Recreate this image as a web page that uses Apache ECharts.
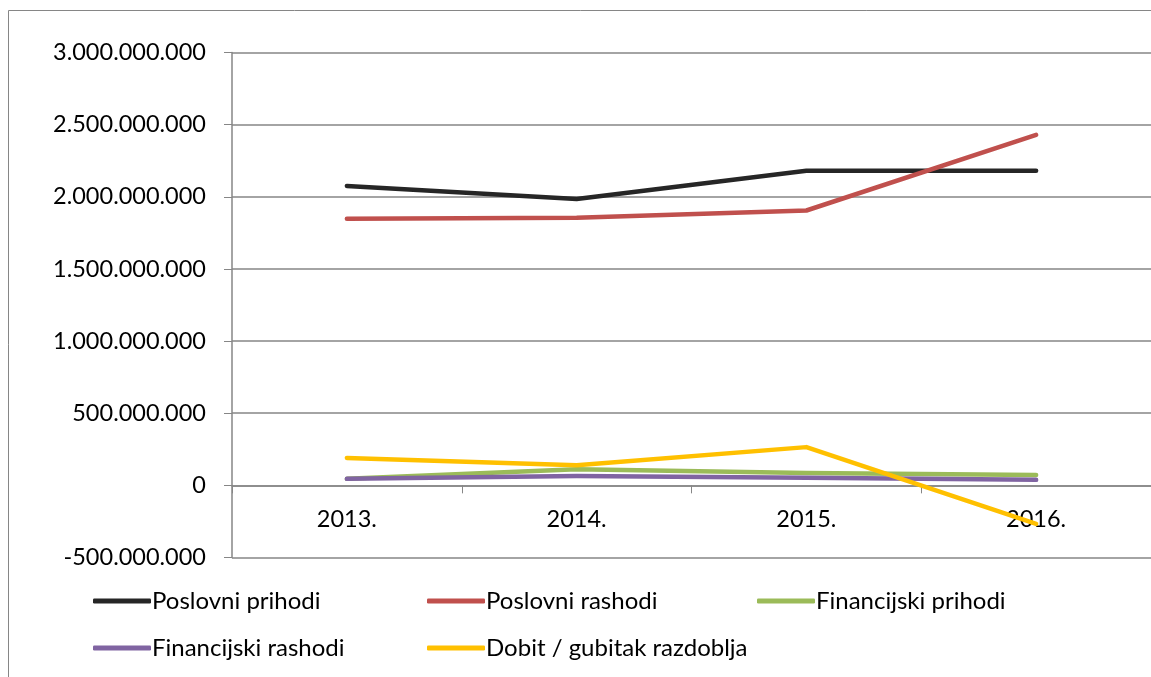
<!DOCTYPE html>
<html><head><meta charset="utf-8">
<script src="https://cdn.jsdelivr.net/npm/echarts@6/dist/echarts.min.js"></script>
<style>html,body{margin:0;padding:0;background:#fff}#c{width:1151px;height:677px}</style>
</head><body><div id="c"></div>
<script>
const categories = ['2013.', '2014.', '2015.', '2016.'];
const poslovniPrihodi = [2075000000, 1985000000, 2180000000, 2180000000];
const poslovniRashodi = [1847000000, 1854000000, 1905000000, 2429000000];
const financijskiPrihodi = [45000000, 112000000, 85000000, 72000000];
const financijskiRashodi = [45000000, 64000000, 52000000, 38000000];
const dobitGubitak = [190000000, 140000000, 265000000, -267000000];
const seriesNames = ['Poslovni prihodi', 'Poslovni rashodi', 'Financijski prihodi', 'Financijski rashodi', 'Dobit / gubitak razdoblja'];
const colors = ['#262626', '#C0504D', '#9BBB59', '#8064A2', '#FFC000'];
const yMin = -500000000, yMax = 3000000000, yStep = 500000000;

function fmt(v) {
  const neg = v < 0; let s = String(Math.abs(v));
  s = s.replace(/\B(?=(\d{3})+(?!\d))/g, '.');
  return (neg ? '-' : '') + s;
}
const font = 'Lato, "Open Sans", sans-serif';
const allData = [poslovniPrihodi, poslovniRashodi, financijskiPrihodi, financijskiRashodi, dobitGubitak];
const legendPos = [[88, 584], [422, 584], [752, 584], [88, 631], [422, 631]];

const chart = echarts.init(document.getElementById('c'), null, {renderer: 'canvas'});
const option = {
  animation: false,
  color: colors,
  graphic: [{type: 'rect', shape: {x: 8.5, y: 10.5, width: 1300, height: 800}, style: {fill: 'none', stroke: '#868686', lineWidth: 1}, silent: true, z: -1}],
  grid: {left: 232, top: 52.5, width: 929, bottom: 119.5, containLabel: false},
  legend: seriesNames.map((n, i) => ({
    data: [n], left: legendPos[i][0], top: legendPos[i][1], icon: 'roundRect', itemWidth: 58, itemHeight: 5,
    textStyle: {fontFamily: font, fontSize: 24, color: '#000', padding: [0, 0, 0, -4]}, selectedMode: false
  })),
  xAxis: {
    type: 'category', data: categories, boundaryGap: true, offset: 0,
    axisLine: {onZero: false, lineStyle: {color: '#868686', width: 1.5}},
    axisTick: {show: true, length: 8, lineStyle: {color: '#868686'}},
    axisLabel: {margin: 22, fontFamily: font, fontSize: 23.5, color: '#000'},
    splitLine: {show: false}
  },
  yAxis: {
    type: 'value', min: yMin, max: yMax, interval: yStep,
    axisLine: {show: true, lineStyle: {color: '#868686', width: 1.5}},
    axisTick: {show: true, inside: false, length: 8, lineStyle: {color: '#868686'}},
    axisLabel: {margin: 26, fontFamily: font, fontSize: 23.5, color: '#000', formatter: fmt},
    splitLine: {show: true, lineStyle: {color: '#868686', width: 1.5}}
  },
  series: seriesNames.map((n, i) => ({
    name: n, type: 'line', data: allData[i], symbol: 'none',
    lineStyle: {width: 4.5, color: colors[i], cap: 'round', join: 'round'}
  }))
};
chart.setOption(option);
// move the category axis (line, ticks, labels) up to the value-axis zero
const zeroPx = chart.convertToPixel({yAxisIndex: 0}, 0);
const minPx = chart.convertToPixel({yAxisIndex: 0}, yMin);
chart.setOption({xAxis: {offset: zeroPx - minPx}});
</script></body></html>
